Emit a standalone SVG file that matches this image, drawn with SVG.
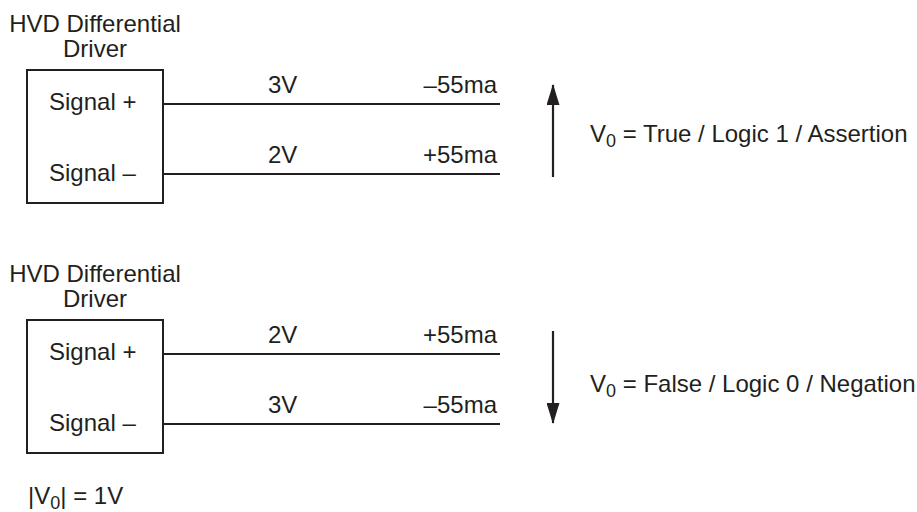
<svg xmlns="http://www.w3.org/2000/svg" width="917" height="512" viewBox="0 0 917 512">
<style>
text{font-family:"Liberation Sans",Arial,sans-serif;font-size:24px;fill:#231f20}
.sub{font-size:18px}
.box{fill:none;stroke:#231f20;stroke-width:2}
.wire{stroke:#231f20;stroke-width:2.2;fill:none}
.end{text-anchor:end}
.mid{text-anchor:middle}
</style>
<defs>
<marker id="ah" markerWidth="21" markerHeight="13" refX="20" refY="6.5" orient="auto" markerUnits="userSpaceOnUse" viewBox="0 0 21 13">
<path d="M0,0 L21,6.5 L0,13 Z" fill="#231f20"/>
</marker>
</defs>
<rect width="917" height="512" fill="#fff"/>
<g id="driver1">
<text x="95" y="32" class="mid">HVD Differential</text>
<text x="95" y="57" class="mid">Driver</text>
<rect x="27" y="70" width="136" height="133" class="box"/>
<text x="49" y="110">Signal +</text>
<text x="49" y="181">Signal –</text>
</g>
<g id="driver2">
<text x="95" y="282" class="mid">HVD Differential</text>
<text x="95" y="307" class="mid">Driver</text>
<rect x="27" y="320" width="136" height="133" class="box"/>
<text x="49" y="360">Signal +</text>
<text x="49" y="431">Signal –</text>
</g>
<g id="connectors">
<line x1="163" y1="104" x2="500" y2="104" class="wire"/>
<line x1="163" y1="174" x2="500" y2="174" class="wire"/>
<line x1="163" y1="354" x2="500" y2="354" class="wire"/>
<line x1="163" y1="424" x2="500" y2="424" class="wire"/>
<line x1="553" y1="177" x2="553" y2="85" class="wire" marker-end="url(#ah)"/>
<line x1="553" y1="331" x2="553" y2="423" class="wire" marker-end="url(#ah)"/>
</g>
<g id="labels">
<text x="268" y="93">3V</text>
<text x="497" y="93" class="end">–55ma</text>
<text x="268" y="163">2V</text>
<text x="497" y="163" class="end">+55ma</text>
<text x="268" y="343">2V</text>
<text x="497" y="343" class="end">+55ma</text>
<text x="268" y="413">3V</text>
<text x="497" y="413" class="end">–55ma</text>
<text x="590" y="142">V<tspan class="sub" dy="5">0</tspan><tspan dy="-5"> = True / Logic 1 / Assertion</tspan></text>
<text x="590" y="392">V<tspan class="sub" dy="5">0</tspan><tspan dy="-5"> = False / Logic 0 / Negation</tspan></text>
<text x="28" y="504">|V<tspan class="sub" dy="5">0</tspan><tspan dy="-5">| = 1V</tspan></text>
</g>
</svg>
